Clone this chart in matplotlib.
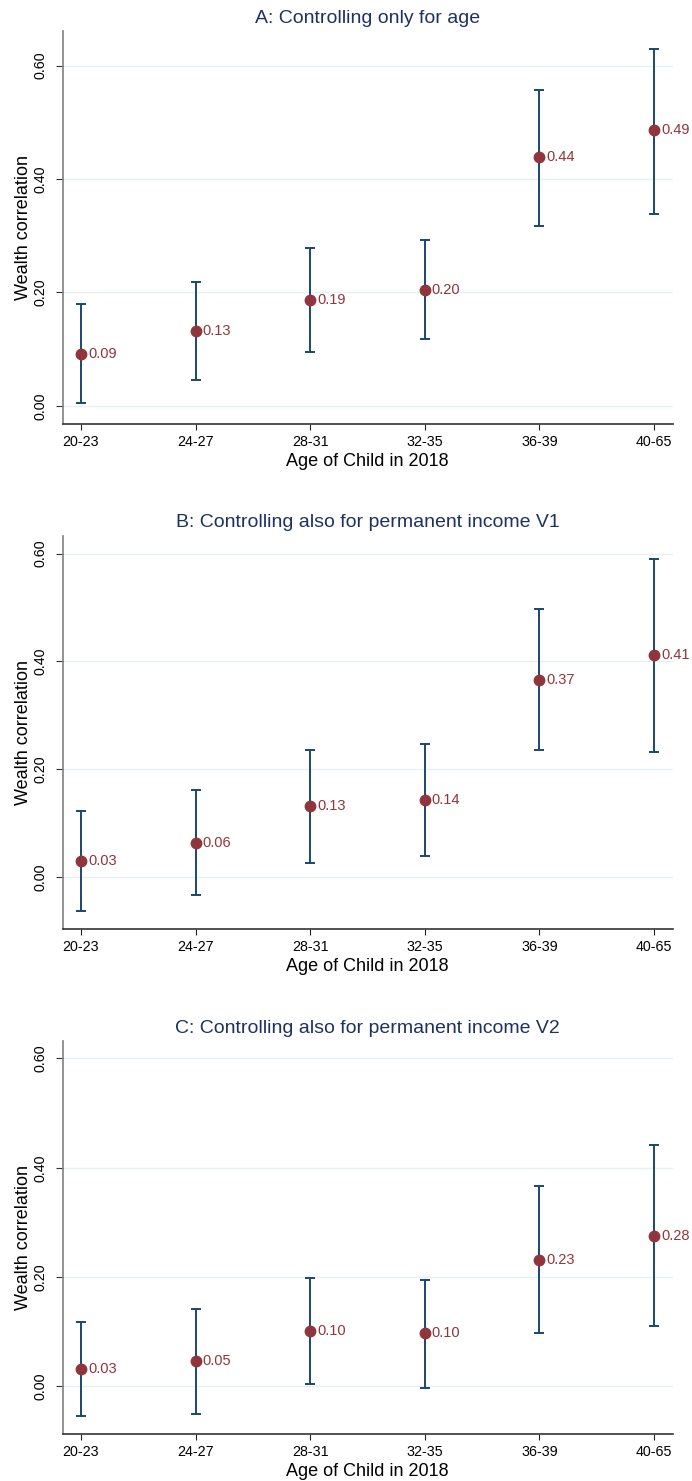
import numpy as np
import matplotlib
matplotlib.use("Agg")
import matplotlib.pyplot as plt

plt.rcParams["font.family"] = ["Liberation Sans", "DejaVu Sans"]

NAVY = "#1a476f"
TITLE_NAVY = "#1e3160"
MAROON = "#90353b"
GRID = "#e6eff1"

age_groups = ["20-23", "24-27", "28-31", "32-35", "36-39", "40-65"]

titles = [
    "A: Controlling only for age",
    "B: Controlling also for permanent income V1",
    "C: Controlling also for permanent income V2",
]

# point estimates and 95% CI bounds
est_a = [0.092, 0.132, 0.187, 0.204, 0.438, 0.487]
lo_a = [0.005, 0.045, 0.095, 0.118, 0.318, 0.339]
hi_a = [0.180, 0.219, 0.279, 0.292, 0.557, 0.630]

est_b = [0.030, 0.064, 0.132, 0.143, 0.366, 0.412]
lo_b = [-0.063, -0.033, 0.027, 0.040, 0.235, 0.232]
hi_b = [0.122, 0.161, 0.236, 0.247, 0.497, 0.590]

est_c = [0.032, 0.046, 0.102, 0.097, 0.232, 0.276]
lo_c = [-0.054, -0.050, 0.004, -0.002, 0.097, 0.111]
hi_c = [0.117, 0.142, 0.199, 0.195, 0.367, 0.441]

yticks = [0.0, 0.2, 0.4, 0.6]
ylims = [(-0.032, 0.661), (-0.096, 0.633), (-0.087, 0.632)]

W, H = 692, 1481
fig = plt.figure(figsize=(W / 100, H / 100), dpi=100)

# axes boxes in pixels: (left, top, right, bottom)
boxes = [(63, 31, 672.6, 424), (63, 535.7, 672.6, 929), (63, 1041, 672.6, 1434)]

panels = [(est_a, lo_a, hi_a), (est_b, lo_b, hi_b), (est_c, lo_c, hi_c)]

for (l, t, r, b), (est, lo, hi), title, ylim in zip(boxes, panels, titles, ylims):
    ax = fig.add_axes([l / W, 1 - b / H, (r - l) / W, (b - t) / H])
    x = np.arange(len(age_groups))
    est = np.array(est)
    yerr = np.vstack([est - np.array(lo), np.array(hi) - est])

    ax.errorbar(x, est, yerr=yerr, fmt="none", ecolor=NAVY, elinewidth=1.4,
                capsize=3.6, capthick=1.4, zorder=2)
    ax.plot(x, est, "o", color=MAROON, markersize=7.5, zorder=3)
    for xi, yi in zip(x, est):
        ax.annotate(f"{yi:.2f}", (xi, yi), xytext=(5, 0), textcoords="offset points",
                    ha="left", va="center", color=MAROON, fontsize=10.5)

    ax.set_xlim(-0.157, 5.162)
    ax.set_ylim(*ylim)
    ax.set_xticks(x)
    ax.set_xticklabels(age_groups, fontsize=10.3)
    ax.set_yticks(yticks)
    ax.set_yticklabels([f"{v:.2f}" for v in yticks], fontsize=10.3)
    plt.setp(ax.get_yticklabels(), rotation=90, va="center")
    ax.tick_params(axis="y", length=5, width=0.8, pad=6, color="#333333")
    ax.tick_params(axis="x", length=4.5, width=0.8, pad=3.5, color="#222222")

    ax.grid(axis="y", color=GRID, linewidth=1.0)
    ax.set_axisbelow(True)
    for s in ["top", "right"]:
        ax.spines[s].set_visible(False)
    ax.spines["left"].set_color("#808080")
    ax.spines["left"].set_linewidth(1.2)
    ax.spines["bottom"].set_color("#333333")
    ax.spines["bottom"].set_linewidth(1.2)

    ax.set_xlabel("Age of Child in 2018", fontsize=13, labelpad=3)
    ax.set_ylabel("Wealth correlation", fontsize=13, labelpad=1)
    ax.set_title(title, fontsize=14, color=TITLE_NAVY, pad=6)

fig.savefig("out.png", dpi=100)
